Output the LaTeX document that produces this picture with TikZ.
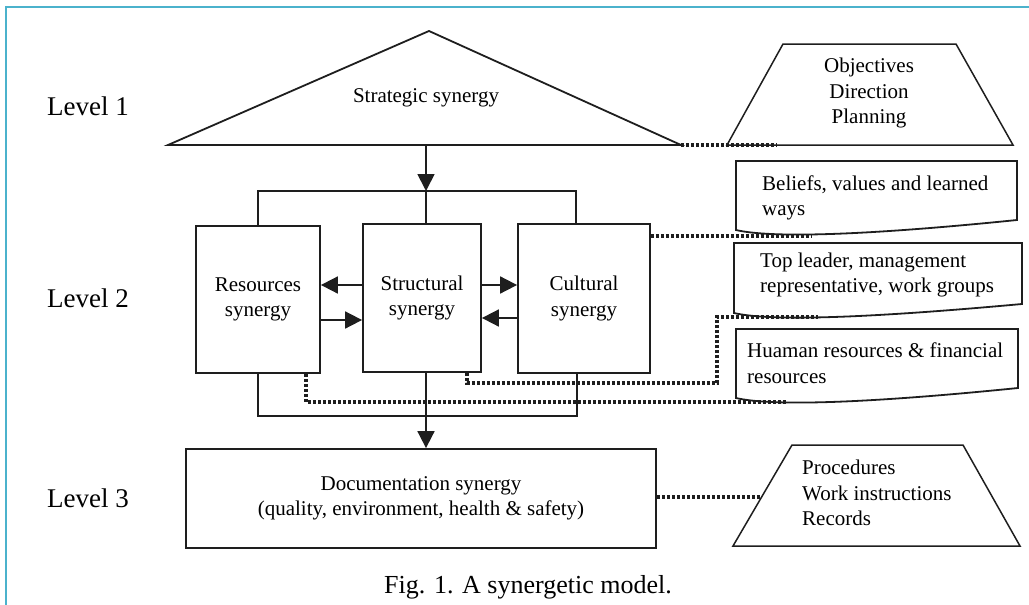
\documentclass[tikz,border=0pt]{standalone}
\usepackage{fontspec}
\setmainfont{Liberation Serif}
\usetikzlibrary{arrows.meta}
\definecolor{frameblue}{RGB}{75,178,204}
\definecolor{ink}{RGB}{30,30,30}
\newcommand\bodysize{\fontsize{21}{25.5}\selectfont}
\newcommand\levelsize{\fontsize{27}{30}\selectfont}
\newcommand\captsize{\fontsize{26}{30}\selectfont}
% document symbol with a wavy lower edge: left, right, top, bottom-left, bottom-right
\newcommand\wavydoc[5]{%
  \draw[line, fill=white] (#1,#3) -- (#2,#3) -- (#2,#5)
    .. controls ({#1+124},{#4+6}) and ({#1+34},{#4+8}) .. (#1,#4) -- cycle;}
\begin{document}
\begin{tikzpicture}[x=1pt,y=-1pt,
  line/.style={draw=ink, line width=1.8pt},
  box/.style={line, fill=white, inner sep=0pt, align=center, font=\bodysize},
  txt/.style={inner sep=0pt, font=\bodysize},
  arr/.style={-{Triangle[length=17pt,width=17pt]}},
  dots/.style={draw=ink, line width=3.2pt, dash pattern=on 3pt off 2pt}]
\useasboundingbox (0,0) rectangle (1029,605);

% frame
\draw[frameblue, line width=2.4pt] (6,605) -- (6,7) -- (1029,7);

% level labels
\node[anchor=west, inner sep=0pt, font=\levelsize] (lv1) at (47,106) {Level 1};
\node[anchor=west, inner sep=0pt, font=\levelsize] (lv2) at (47,298) {Level 2};
\node[anchor=west, inner sep=0pt, font=\levelsize] (lv3) at (47,498) {Level 3};

% level 1: strategic triangle
\coordinate (triL) at (168,145);
\coordinate (triT) at (429,31);
\coordinate (triR) at (681,145);
\draw[line] (triL) -- (triT) -- (triR) -- cycle;
\node[txt] (strat) at (426,98) {Strategic synergy};

% level 1 trapezium
\coordinate (tzaBL) at (727,145);
\coordinate (tzaTL) at (783,44);
\coordinate (tzaTR) at (956,44);
\coordinate (tzaBR) at (1013,145);
\draw[line, line width=1.5pt] (tzaBL) -- (tzaTL) -- (tzaTR) -- (tzaBR) -- cycle;
\node[txt, align=center] (obj) at (869,93) {Objectives\\Direction\\Planning};
\coordinate (tzaDot) at (777,145);

% level 2 boxes
\node[box, minimum width=124pt, minimum height=147pt] (res) at (258,299.5) {Resources\\synergy};
\node[box, minimum width=118pt, minimum height=148pt] (str) at (422,298) {Structural\\synergy};
\node[box, minimum width=132pt, minimum height=149pt] (cul) at (584,298.5) {Cultural\\synergy};

% level 3 box
\node[box, minimum width=470pt, minimum height=99pt] (doc) at (421,498.5)
  {Documentation synergy\\(quality, environment, health \& safety)};

% distribution from level 1 into level 2
\coordinate (split) at (426,191);
\draw[line, arr] (split |- triL) -- (split);
\draw[line] (res.north) |- (split) -| ([xshift=-8pt]cul.north);
\draw[line] (split) -- ([xshift=4pt]str.north);

% exchanges between the level 2 boxes
\draw[line, arr] (str.west |- 0,285) -- (res.east |- 0,285);
\draw[line, arr] (res.east |- 0,320) -- (str.west |- 0,320);
\draw[line, arr] (str.east |- 0,285) -- (cul.west |- 0,285);
\draw[line, arr] (cul.west |- 0,318) -- (str.east |- 0,318);

% collection from level 2 into level 3
\coordinate (join) at (426,416);
\draw[line] (res.south) |- (join) -| ([xshift=-7pt]cul.south);
\draw[line, arr] ([xshift=4pt]str.south) -- ([xshift=5pt]doc.north);

% level 2 documents
\wavydoc{736}{1017}{161}{230}{220}
\wavydoc{734}{1022}{243}{313}{304}
\wavydoc{736}{1018}{329}{398}{388}
\node[txt, anchor=west, align=left] (beliefs) at (762,198) {Beliefs, values and learned\\ways};
\node[txt, anchor=west, align=left] (leaders) at (760,275) {Top leader, management\\representative, work groups};
\node[txt, anchor=west, align=left] (funds) at (747,363) {Huaman resources \& financial\\resources};

% level 3 trapezium
\coordinate (tzbBL) at (733,546);
\coordinate (tzbTL) at (792,445);
\coordinate (tzbTR) at (963,445);
\coordinate (tzbBR) at (1020,546);
\draw[line, line width=1.5pt] (tzbBL) -- (tzbTL) -- (tzbTR) -- (tzbBR) -- cycle;
\node[txt, anchor=west, align=left] (rec) at (802,493) {Procedures\\Work instructions\\Records};
\coordinate (tzbMid) at (761,497);

% dotted links to the descriptions
\coordinate (belEnd) at (812,236);
\coordinate (leadEnd) at (818,317);
\coordinate (fundEnd) at (787,402);
\draw[dots] (triR) -- (tzaBL) -- (tzaDot);
\draw[dots] (cul.east |- belEnd) -- (belEnd);
\draw[dots] ([xshift=45pt]str.south) |- (717,383) |- (leadEnd);
\draw[dots] ([xshift=48pt]res.south) |- (fundEnd);
\draw[dots] (doc.east |- tzbMid) -- (tzbMid);

% caption
\node[inner sep=0pt, font=\captsize] (cap) at (528,587) {Fig. 1. A synergetic model.};
\end{tikzpicture}
\end{document}
